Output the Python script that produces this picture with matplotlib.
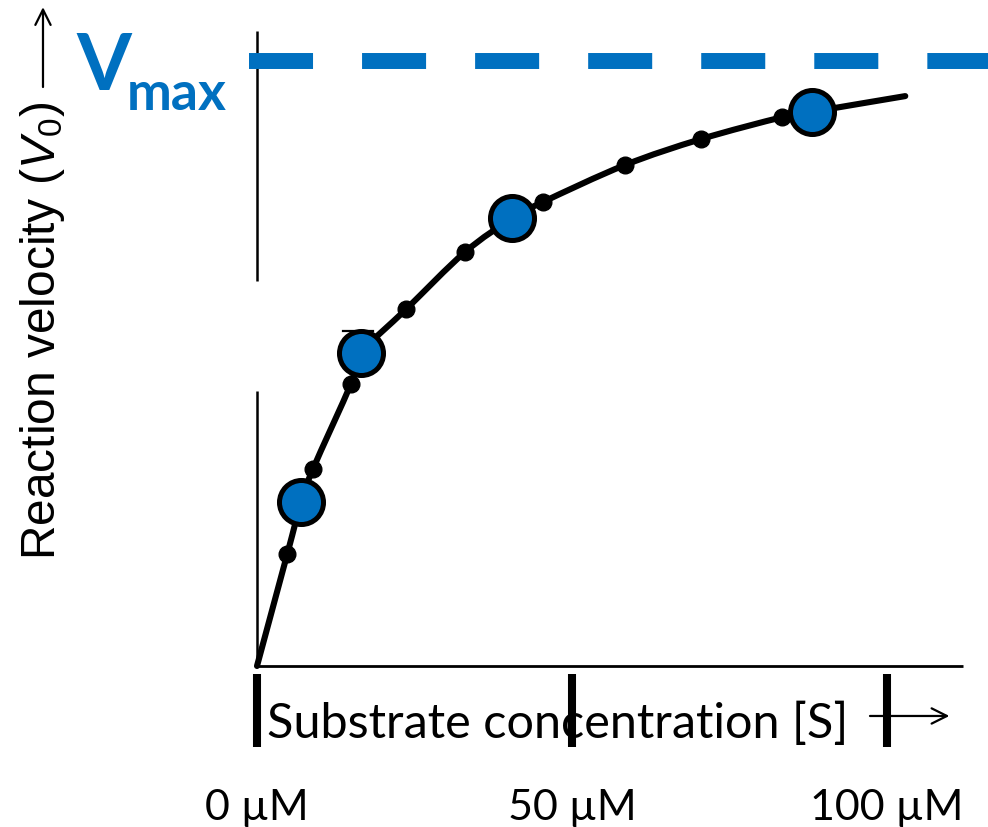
import matplotlib
matplotlib.use("Agg")
import matplotlib.pyplot as plt
from matplotlib.path import Path
from matplotlib.patches import PathPatch

# Substrate concentration (uM) and reaction velocity (% of Vmax)
dot_s = [4.8, 8.9, 14.9, 23.7, 33.0, 45.4, 58.4, 70.5, 83.3]
dot_v = [18.5, 32.6, 46.6, 59.0, 68.4, 76.7, 82.8, 87.1, 90.7]

# highlighted measurements
hi_s = [7.0, 16.5, 40.5, 88.1]
hi_v = [27.1, 51.7, 74.0, 91.6]

# curve end points (start at the origin, end of drawn saturation curve)
curve_start = (0.0, 0.0)
curve_end = (102.9, 94.2)

vmax = 100.0
tick_values = [0, 50, 100]
tick_labels = ["0 \u00b5M", "50 \u00b5M", "100 \u00b5M"]

BLUE = "#0070C0"
plt.rcParams["lines.scale_dashes"] = False
plt.rcParams["mathtext.fontset"] = "custom"
plt.rcParams["mathtext.rm"] = "Liberation Sans"
plt.rcParams["mathtext.it"] = "Liberation Sans:italic"

fig = plt.figure(figsize=(9.88, 8.28), dpi=100)
ax = fig.add_axes([0, 0, 1, 1])
ax.set_xlim(-257 / 6.3, (988 - 257) / 6.3)
ax.set_ylim((667 - 828) / 6.05, 667 / 6.05)
ax.axis("off")

# axes lines: broken y axis and x axis
ax.plot([0, 0], [0, 45.4], color="black", lw=1.8, solid_capstyle="butt")
ax.plot([0, 0], [63.6, 105.0], color="black", lw=1.8, solid_capstyle="butt")
ax.plot([0, 112.1], [0, 0], color="black", lw=2.0, solid_capstyle="butt")
ax.plot([13.6, 18.4], [55.4, 55.4], color="black", lw=1.6)

# Vmax dashed line
ax.plot([-1.27, 120], [vmax, vmax], color=BLUE, lw=11.5,
        dashes=(46.1, 35.3), solid_capstyle="butt", dash_capstyle="butt",
        clip_on=True)

# smooth saturation curve through the measurements (Catmull-Rom as Bezier)
pts = sorted([curve_start, curve_end] + list(zip(dot_s, dot_v)) + list(zip(hi_s, hi_v)))
ext = [pts[0]] + pts + [pts[-1]]
verts = [pts[0]]
codes = [Path.MOVETO]
for i in range(1, len(ext) - 2):
    p0, p1, p2, p3 = ext[i - 1], ext[i], ext[i + 1], ext[i + 2]
    c1 = (p1[0] + (p2[0] - p0[0]) / 6, p1[1] + (p2[1] - p0[1]) / 6)
    c2 = (p2[0] - (p3[0] - p1[0]) / 6, p2[1] - (p3[1] - p1[1]) / 6)
    verts += [c1, c2, p2]
    codes += [Path.CURVE4] * 3
ax.add_patch(PathPatch(Path(verts, codes), fc="none", ec="black", lw=4.4,
                       capstyle="round", joinstyle="round", zorder=3))
ax.plot(dot_s, dot_v, "o", color="black", ms=12, zorder=4)
ax.plot(hi_s, hi_v, "o", mfc=BLUE, mec="black", mew=3.6, ms=31.7, zorder=5)

# thick tick bars and labels
ax.vlines(tick_values, -13.4, -1.3, color="black", lw=5.8)
for t, lab in zip(tick_values, tick_labels):
    ax.text(t, -25.3, lab, ha="center", va="baseline", fontsize=31,
            family="Lato")

# x label with arrow
ax.text(1.6, -11.74, "Substrate concentration [S]", ha="left", va="baseline",
        fontsize=35, family="Lato")
ax.annotate("", xy=(109.9, -8.26), xytext=(97.3, -8.26),
            arrowprops=dict(arrowstyle="->,head_length=1.1,head_width=0.55",
                            lw=1.6, color="black", shrinkA=0, shrinkB=0))

# y label with arrow
ax.text(-33.97, 55.5, "Reaction velocity ($\\mathit{V}_0$)", rotation=90,
        ha="center", va="center", fontsize=34.5, family="Liberation Sans")
ax.annotate("", xy=(-33.97, 108.9), xytext=(-33.97, 95.7),
            arrowprops=dict(arrowstyle="->,head_length=1.1,head_width=0.55",
                            lw=1.6, color="black", shrinkA=0, shrinkB=0))

# Vmax label
ax.text(-28.6, 95.4, "V", color=BLUE, fontsize=57, fontweight="bold",
        family="Lato", ha="left", va="baseline")
ax.text(-20.7, 92.1, "max", color=BLUE, fontsize=38.5, fontweight="bold",
        family="Lato", ha="left", va="baseline")

fig.savefig("out.png", dpi=100)
